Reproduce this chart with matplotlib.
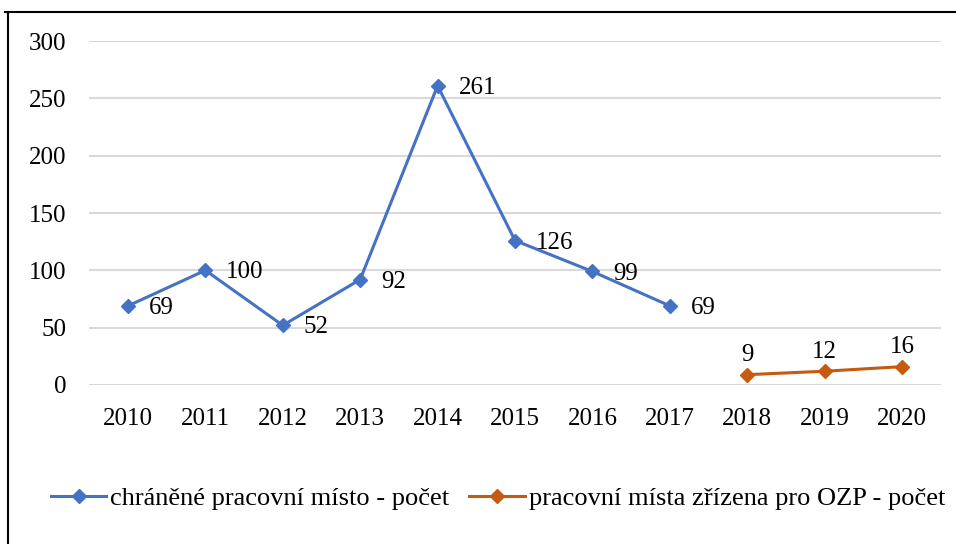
import matplotlib
matplotlib.use("Agg")
import matplotlib.pyplot as plt
from matplotlib.lines import Line2D

plt.rcParams['font.family'] = ['Liberation Serif', 'DejaVu Serif']

years = ["2010", "2011", "2012", "2013", "2014", "2015", "2016", "2017", "2018", "2019", "2020"]
chranene_years = ["2010", "2011", "2012", "2013", "2014", "2015", "2016", "2017"]
chranene_values = [69, 100, 52, 92, 261, 126, 99, 69]
ozp_years = ["2018", "2019", "2020"]
ozp_values = [9, 12, 16]
yticks = [0, 50, 100, 150, 200, 250, 300]
label_blue = "chráněné pracovní místo - počet"
label_orange = "pracovní místa zřízena pro OZP - počet"

blue = "#4472C4"
orange = "#C55A11"
FS = 18

fig = plt.figure(figsize=(9.56, 5.44), dpi=100)
ax = fig.add_axes([0.0934, 0.2923, 0.8906, 0.6323])

xb = [years.index(y) for y in chranene_years]
xo = [years.index(y) for y in ozp_years]

ax.plot(xb, chranene_values, color=blue, lw=2.2, marker='D', ms=7.5,
        label=label_blue, zorder=3)
ax.plot(xo, ozp_values, color=orange, lw=2.2, marker='D', ms=7.5,
        label=label_orange, zorder=3)

for x, v in zip(xb, chranene_values):
    ax.annotate(str(v), (x, v), xytext=(15, -1.5), textcoords='offset points',
                ha='left', va='center', fontsize=FS)
for x, v in zip(xo, ozp_values):
    ax.annotate(str(v), (x, v), xytext=(0, 6), textcoords='offset points',
                ha='center', va='bottom', fontsize=FS)

ax.set_xlim(-0.5, len(years) - 0.5)
ax.set_ylim(0, 300)
ax.set_xticks(range(len(years)))
ax.set_xticklabels(years, fontsize=FS)
ax.set_yticks(yticks)
ax.set_yticklabels([str(t) for t in yticks], fontsize=FS)
ax.tick_params(length=0)
ax.tick_params(axis='x', pad=16.5)
ax.tick_params(axis='y', pad=16.5)
ax.grid(axis='y', color='#d9d9d9', lw=1.5)
ax.set_axisbelow(True)
for s in ax.spines.values():
    s.set_visible(False)

fig.legend(loc='center', bbox_to_anchor=(0.521, 0.084), ncol=2, frameon=False,
           fontsize=19, handlelength=2.1, handletextpad=0.15, columnspacing=0.75)

# outer frame (top and left border)
fig.add_artist(Line2D([5/956, 1.0], [1 - 12/544, 1 - 12/544], color='black', lw=1.5,
                      transform=fig.transFigure))
fig.add_artist(Line2D([8/956, 8/956], [0, 1 - 12/544], color='black', lw=1.5,
                      transform=fig.transFigure))

fig.savefig("out.png", dpi=100)
